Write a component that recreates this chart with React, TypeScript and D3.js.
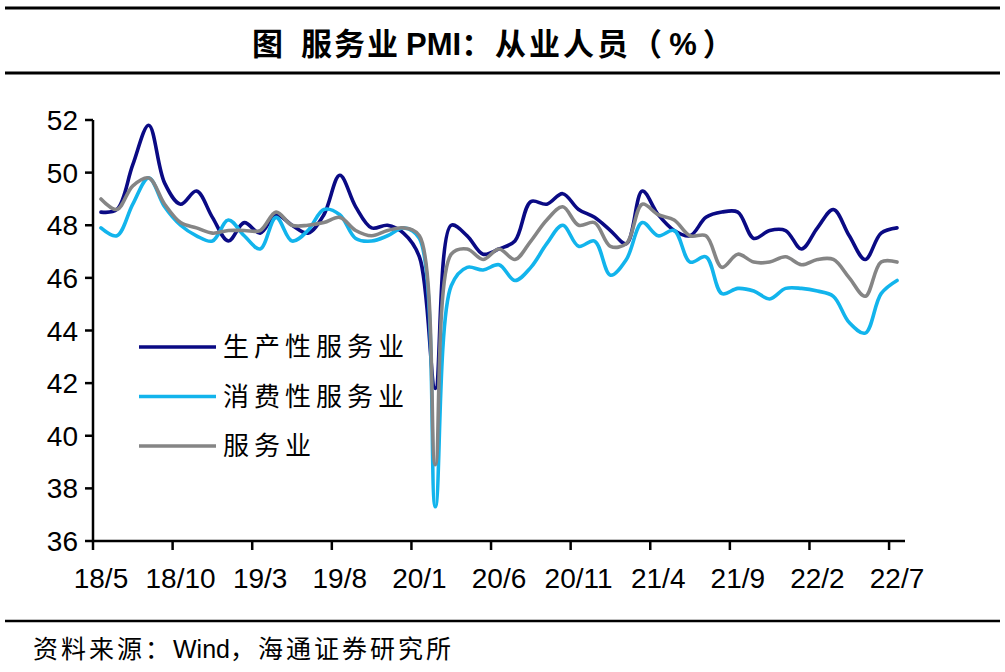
import React from 'react';
import * as d3 from 'd3';

// monthly, 2018/5 .. 2022/7
const startYear = 18;
const startMonth = 5;
const monthCount = 51;
const months: string[] = Array.from({ length: monthCount }, (_, i) => {
	const m = startMonth - 1 + i;
	return `${startYear + Math.floor(m / 12)}/${(m % 12) + 1}`;
});
const tickLabels = ['18/5', '18/10', '19/3', '19/8', '20/1', '20/6', '20/11', '21/4', '21/9', '22/2', '22/7'];
const yTicks = [36, 38, 40, 42, 44, 46, 48, 50, 52];

const producer = [
	48.5, 48.6, 50.3, 51.8, 49.6, 48.8, 49.3, 48.3, 47.4, 48.1,
	47.7, 48.4, 48.0, 47.7, 48.4, 49.9, 48.7, 47.9, 48.0, 47.7,
	46.8, 41.8, 48.0, 47.6, 46.9, 47.1, 47.4, 48.9, 48.8, 49.2,
	48.6, 48.3, 47.8, 47.3, 49.3, 48.4, 47.8, 47.6, 48.3, 48.5,
	48.5, 47.5, 47.8, 47.8, 47.1, 47.9, 48.6, 47.6, 46.7, 47.7,
	47.9,
];
const consumer = [
	47.9, 47.6, 48.8, 49.8, 48.7, 48.0, 47.6, 47.4, 48.2, 47.6,
	47.1, 48.3, 47.4, 47.8, 48.6, 48.4, 47.5, 47.4, 47.6, 47.9,
	47.5, 37.3, 45.7, 46.4, 46.3, 46.5, 45.9, 46.4, 47.3, 48.0,
	47.2, 47.4, 46.1, 46.7, 48.1, 47.6, 47.8, 46.6, 46.8, 45.4,
	45.6, 45.5, 45.2, 45.6, 45.6, 45.5, 45.3, 44.3, 43.9, 45.4,
	45.9,
];
const services = [
	49.0, 48.6, 49.5, 49.8, 48.8, 48.1, 47.9, 47.7, 47.8, 47.8,
	47.8, 48.5, 48.0, 48.0, 48.1, 48.3, 47.8, 47.6, 47.8, 47.9,
	47.6, 38.9, 46.9, 47.1, 46.7, 47.1, 46.7, 47.4, 48.2, 48.7,
	48.0, 48.1, 47.2, 47.3, 48.8, 48.4, 48.2, 47.6, 47.6, 46.4,
	46.9, 46.6, 46.6, 46.8, 46.5, 46.7, 46.7, 46.0, 45.3, 46.6,
	46.6,
];

const seriesNames = ['生产性服务业', '消费性服务业', '服务业'];
const seriesColors = ['#0a0a84', '#12b4ec', '#858585'];
const seriesData = [producer, consumer, services];

const W = 1005;
const H = 672;
const plot = { left: 93, right: 905, top: 120, bottom: 541 };
const numFont = '"Liberation Sans", Arial, sans-serif';
const cjkFont = '"Noto Sans CJK SC", sans-serif';

export default function App() {
	const x = d3.scaleBand<string>().domain(months).range([plot.left, plot.right]);
	const xc = (m: string) => (x(m) ?? 0) + x.bandwidth() / 2;
	const y = d3.scaleLinear().domain([36, 52]).range([plot.bottom, plot.top]);

	const line = (vals: number[]) =>
		d3.line<number>()
			.x((_, i) => xc(months[i]))
			.y((v) => y(v))
			.curve(d3.curveCatmullRom.alpha(0.5))(vals) ?? '';

	return (
		<svg width={W} height={H} style={{ position: 'absolute', left: 0, top: 0, background: '#fff' }}>
			{/* header */}
			<line x1={5} x2={1000} y1={8} y2={8} stroke="#000" strokeWidth={3} />
			<text x={252} y={55} fontFamily={cjkFont} fontWeight="bold" fontSize={31}>
				<tspan>图</tspan>
				<tspan dx={18} letterSpacing={2}>服务业</tspan>
				<tspan dx={6} fontFamily={numFont}>PMI</tspan>
				<tspan letterSpacing={3}>：从业人员（</tspan>
				<tspan dx={4} fontFamily={numFont}>%</tspan>
				<tspan dx={6}>）</tspan>
			</text>
			<line x1={5} x2={1000} y1={73} y2={73} stroke="#000" strokeWidth={3} />

			{/* y axis */}
			<line x1={plot.left} x2={plot.left} y1={plot.top} y2={plot.bottom} stroke="#000" strokeWidth={2.5} />
			{yTicks.map((t) => (
				<g key={t}>
					<line x1={plot.left - 8} x2={plot.left} y1={y(t)} y2={y(t)} stroke="#000" strokeWidth={2.5} />
					<text x={plot.left - 15} y={y(t)} dy="0.36em" textAnchor="end" fontFamily={numFont} fontSize={28}>
						{t}
					</text>
				</g>
			))}

			{/* x axis */}
			<line x1={plot.left} x2={plot.right} y1={plot.bottom} y2={plot.bottom} stroke="#000" strokeWidth={2.5} />
			{tickLabels.map((lab) => (
				<g key={lab}>
					<line x1={x(lab)} x2={x(lab)} y1={plot.bottom} y2={plot.bottom + 9} stroke="#000" strokeWidth={2.5} />
					<text x={xc(lab)} y={588} textAnchor="middle" fontFamily={numFont} fontSize={28}>
						{lab}
					</text>
				</g>
			))}

			{/* series */}
			{seriesData.map((vals, i) => (
				<path key={seriesNames[i]} d={line(vals)} fill="none" stroke={seriesColors[i]} strokeWidth={3.6}
					strokeLinejoin="round" strokeLinecap="round" />
			))}

			{/* legend */}
			{seriesNames.map((name, i) => (
				<g key={name} transform={`translate(139, ${347 + i * 49.5})`}>
					<line x1={0} x2={77} y1={0} y2={0} stroke={seriesColors[i]} strokeWidth={3.6} />
					<text x={84} y={0} dy="0.36em" fontFamily={cjkFont} fontSize={26} letterSpacing={5}>
						{name}
					</text>
				</g>
			))}

			{/* footer */}
			<line x1={5} x2={1000} y1={621} y2={621} stroke="#000" strokeWidth={2.5} />
			<text x={33} y={658} fontFamily={cjkFont} fontSize={25}>
				<tspan letterSpacing={3}>资料来源：</tspan>
				<tspan fontFamily={numFont}>Wind</tspan>
				<tspan letterSpacing={3}>，海通证券研究所</tspan>
			</text>
		</svg>
	);
}
